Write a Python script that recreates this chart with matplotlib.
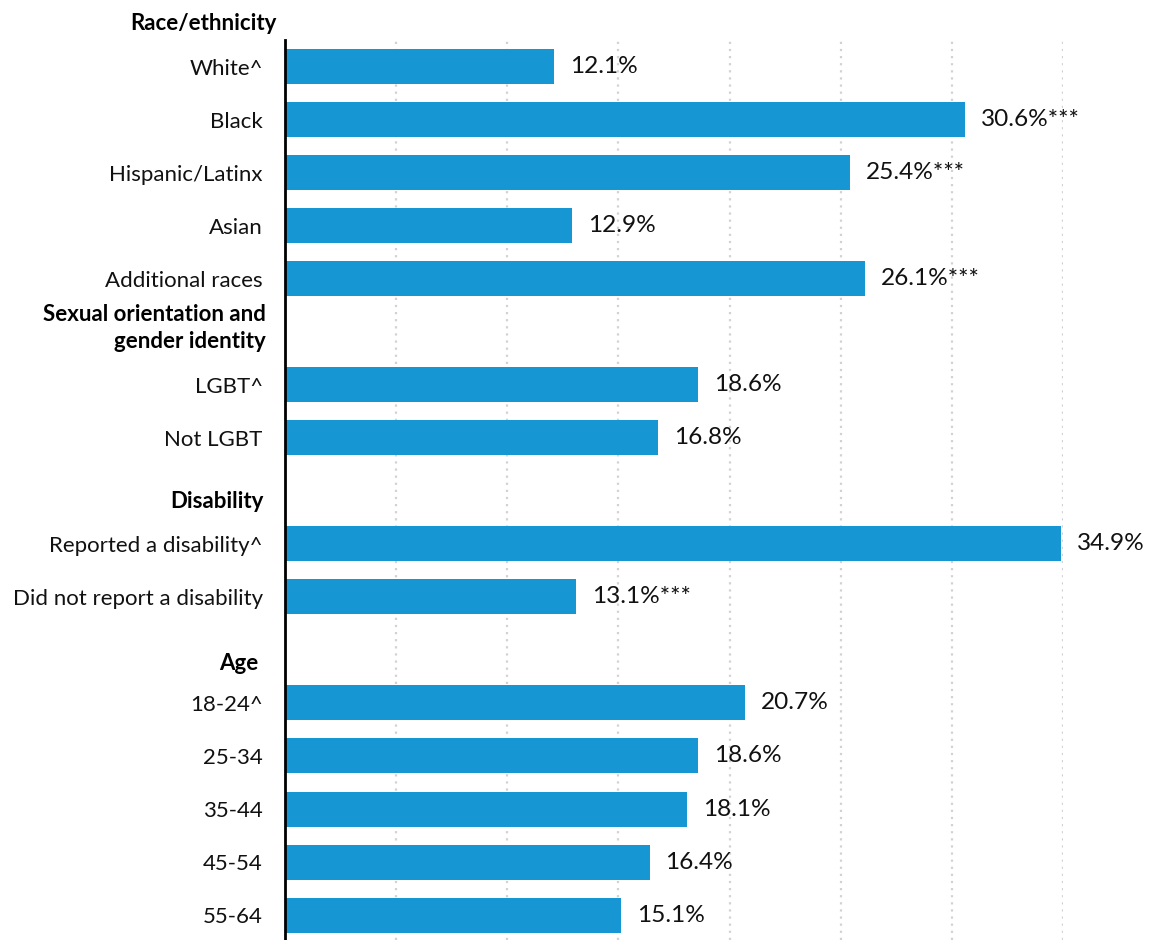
import matplotlib.pyplot as plt
from matplotlib.transforms import blended_transform_factory

plt.rcParams['font.family'] = ['Lato', 'DejaVu Sans']

# group headers and the rows under each
groups = ["Race/ethnicity", "Sexual orientation and\ngender identity", "Disability", "Age"]
labels = [
    ["White^", "Black", "Hispanic/Latinx", "Asian", "Additional races"],
    ["LGBT^", "Not LGBT"],
    ["Reported a disability^", "Did not report a disability"],
    ["18-24^", "25-34", "35-44", "45-54", "55-64"],
]
values = [
    [12.1, 30.6, 25.4, 12.9, 26.1],
    [18.6, 16.8],
    [34.9, 13.1],
    [20.7, 18.6, 18.1, 16.4, 15.1],
]
stars = [
    ["", "***", "***", "", "***"],
    ["", ""],
    ["", "***"],
    ["", "", "", "", ""],
]

BLUE = "#1696d2"
FS = 16

fig = plt.figure(figsize=(11.67, 9.4), dpi=100)
ax = fig.add_axes([285 / 1167, 0, 778 / 1167, 900 / 940])

# each header takes one row slot, bars follow it
slot = 0
ypos, names, vals, flags, head_slots = [], [], [], [], []
for g, labs, vs, st in zip(groups, labels, values, stars):
    head_slots.append(slot)
    slot += 1
    for l, v, s in zip(labs, vs, st):
        ypos.append(slot)
        names.append(l)
        vals.append(v)
        flags.append(s)
        slot += 1

for x in range(5, 40, 5):
    ax.axvline(x, color="#d2d2d2", lw=1.6, ls=(0, (1, 2.2)), zorder=0)

ax.barh(ypos, vals, height=0.66, color=BLUE, zorder=2)

for y, v, s in zip(ypos, vals, flags):
    ax.annotate(f"{v}%{s}", xy=(v, y), xytext=(11.5, 0), textcoords="offset points",
                fontsize=17.6, va="center", ha="left", color="#111111")

# headers sit to the left of the axis in the empty slots
trans = blended_transform_factory(ax.transAxes, ax.transData)
head_x = [277, 266, 264, 258]
head_dy = [0.19, -0.07, 0.21, 0.25]
for g, s, hx, dy in zip(groups, head_slots, head_x, head_dy):
    ax.text((hx - 285) / 778, s + dy, g, transform=trans, ha="right", va="center",
            fontsize=FS, fontweight="bold", clip_on=False, linespacing=1.35)

ax.set_yticks(ypos)
ax.set_yticklabels(names, fontsize=FS, color="#111111")
ax.tick_params(axis="y", length=0, pad=16)
ax.set_xticks([])
ax.set_xlim(0, 35)
ax.set_ylim(17.47, 0.5)

for sp in ["top", "right", "bottom"]:
    ax.spines[sp].set_visible(False)
ax.spines["left"].set_linewidth(2)
ax.spines["left"].set_zorder(3)

fig.savefig("out.png", dpi=100)
